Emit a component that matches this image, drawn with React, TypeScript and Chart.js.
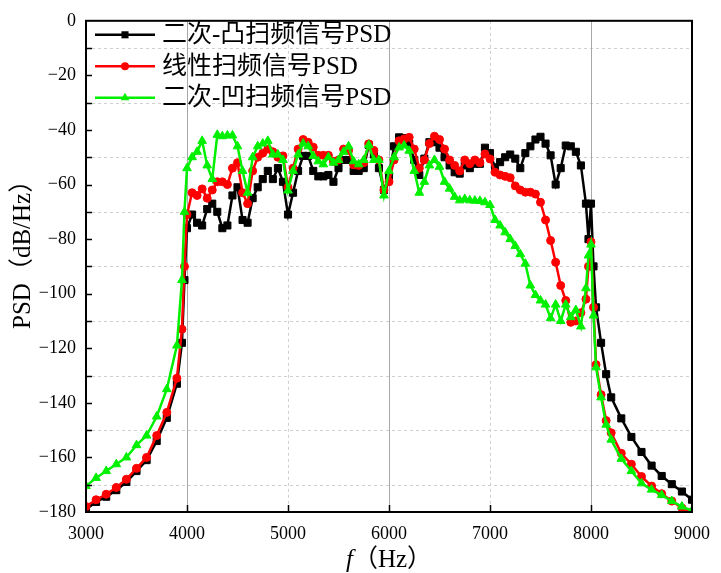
import React, { useEffect, useRef } from "react";
import { Chart, registerables } from "chart.js";

Chart.register(...registerables);

// ---------- data ----------
const freqHz = [
  3000, 3100, 3200, 3300, 3400, 3500, 3600, 3700, 3800, 3900, 3950, 3975,
  4000, 4050, 4100, 4150, 4200, 4250, 4300, 4350, 4400, 4450, 4500, 4550, 4600, 4650, 4700, 4750, 4800, 4850, 4900, 4950,
  5000, 5050, 5100, 5150, 5200, 5250, 5300, 5350, 5400, 5450, 5500, 5550, 5600, 5650, 5700, 5750, 5800, 5850, 5900, 5950,
  6000, 6050, 6100, 6150, 6200, 6250, 6300, 6350, 6400, 6450, 6500, 6550, 6600, 6650, 6700, 6750, 6800, 6850, 6900, 6950,
  7000, 7050, 7100, 7150, 7200, 7250, 7300, 7350, 7400, 7450, 7500, 7550, 7600, 7650, 7700, 7750, 7800, 7850, 7900, 7950, 7975,
  8000, 8025, 8050, 8100, 8150, 8200, 8300, 8400, 8500, 8600, 8700, 8800, 8900, 9000,
];

const convexPsd = [
  -179, -176.3, -174.4, -172, -169, -165, -161, -154, -145.5, -133, -118, -95,
  -76, -71, -74, -75, -69, -67, -70, -76, -75, -64, -61, -73, -74, -65, -61, -58, -55, -58, -54, -59,
  -71, -63, -55, -49.5, -49.5, -55, -57, -57, -56.5, -59, -54, -51, -51, -55, -55, -54, -45.5, -49, -54, -62,
  -57, -46, -42.7, -43, -45, -51, -56.5, -50.5, -44.5, -44.5, -46.5, -50, -53, -55.5, -56, -53, -54, -52.4, -52.4, -46.5,
  -48.5, -53.7, -51.8, -50, -49, -50.5, -54, -48.5, -46, -43.5, -42.5, -45, -49.3, -60, -54, -45.7, -46, -48, -53, -67, -80,
  -67, -90, -105, -118, -129.5, -138, -145.7, -152.5, -158, -163, -166.8, -169.8, -172.5, -175.5,
];

const linearPsd = [
  -178, -175.5, -173.5, -171, -168, -164, -160, -152, -143.5, -131, -113, -90,
  -71, -63, -64, -61.6, -65, -62, -59, -59, -60, -54, -52, -63, -67, -55, -50, -48.5, -47, -48, -50, -49.5,
  -61, -54, -47, -43.5, -44.5, -46.3, -49.3, -49.3, -49.3, -51.5, -51, -47, -47.5, -52.8, -53, -52, -45.1, -47.5, -51, -62,
  -59, -51, -44, -43.3, -42.7, -47, -54, -51, -45, -42.3, -43.5, -47, -51, -53, -55, -51, -52.4, -51, -52, -48.8,
  -50.6, -55.5, -56.5, -57, -57.5, -60.5, -62, -62.8, -62.8, -63.5, -66.5, -73, -80.5, -88.5, -97, -102.5, -110.5, -110, -107, -102, -90,
  -81, -105, -126, -137, -146.5, -151, -158.5, -162.5, -167, -170.5, -173.3, -176, -178.5, -180,
];

const concavePsd = [
  -170.5, -167.5, -165, -162.5, -160, -155.5, -152, -145, -135, -119, -95, -70,
  -54, -50, -48, -44, -53, -58, -41.8, -42.3, -42, -42, -46, -55, -63, -50, -46, -45, -44, -49, -49, -51,
  -62.2, -55, -49, -45, -46, -49.5, -51.5, -52.6, -50, -52, -51, -48, -46, -51.5, -52.6, -51, -45.5, -51, -51, -64,
  -55, -50, -46.4, -45.7, -47.6, -55, -63, -59, -53, -51, -53.5, -59, -61.5, -64.5, -65.8, -65.3, -65.8, -65.9, -66, -66.5,
  -67.5, -73, -75, -77.5, -80, -82.5, -85.5, -89, -97, -100.5, -102.5, -104, -109, -104, -110, -104, -108.6, -106, -112, -98, -86,
  -82, -108, -127, -138, -148, -153.5, -160.5, -165, -169.5, -171.8, -173.8, -176, -178, -179.5,
];

const seriesNames = ["二次-凸扫频信号PSD", "线性扫频信号PSD", "二次-凹扫频信号PSD"];
const seriesColors = ["#000000", "#ff0000", "#00f000"];
const seriesMarkers = ["rect", "circle", "triangle"];
const seriesValues = [convexPsd, linearPsd, concavePsd];

const xRange = [3000, 9000];
const xStep = 1000;
const yRange = [-180, 0];
const yStep = 20;
const yMinorStep = 10;
const solidGridHz = [4000, 6000, 8000];
const dottedGridHz = [5000, 7000];
const dottedGridPsd = [-10, -30, -50, -70, -90, -110, -130, -150, -170];

const xTitleItalic = "f";
const xTitleRest = "（Hz）";
const yTitle = "PSD（dB/Hz）";

const SERIF = '"Liberation Serif", "Noto Sans CJK SC", serif';

function drawMarker(ctx: CanvasRenderingContext2D, style: string, cx: number, cy: number, r: number) {
  ctx.beginPath();
  if (style === "rect") {
    const s = r * Math.SQRT1_2;
    ctx.rect(cx - s, cy - s, 2 * s, 2 * s);
  } else if (style === "circle") {
    ctx.arc(cx, cy, r, 0, Math.PI * 2);
  } else {
    const h = r * 1.5;
    ctx.moveTo(cx, cy - r);
    ctx.lineTo(cx + r * 0.866, cy + r * 0.5);
    ctx.lineTo(cx - r * 0.866, cy + r * 0.5);
    ctx.closePath();
    void h;
  }
  ctx.fill();
}

const decorPlugin = {
  id: "decor",
  beforeDatasetsDraw(chart: any) {
    const { ctx, chartArea: a, scales } = chart;
    const x = scales.x;
    const y = scales.y;
    ctx.save();
    ctx.lineWidth = 1;
    ctx.strokeStyle = "#cfcfcf";
    ctx.setLineDash([3, 3]);
    for (const v of dottedGridPsd) {
      const py = Math.round(y.getPixelForValue(v)) + 0.5;
      ctx.beginPath();
      ctx.moveTo(a.left, py);
      ctx.lineTo(a.right, py);
      ctx.stroke();
    }
    for (const v of dottedGridHz) {
      const px = Math.round(x.getPixelForValue(v)) + 0.5;
      ctx.beginPath();
      ctx.moveTo(px, a.top);
      ctx.lineTo(px, a.bottom);
      ctx.stroke();
    }
    ctx.setLineDash([]);
    ctx.strokeStyle = "#a8a8a8";
    for (const v of solidGridHz) {
      const px = Math.round(x.getPixelForValue(v)) + 0.5;
      ctx.beginPath();
      ctx.moveTo(px, a.top);
      ctx.lineTo(px, a.bottom);
      ctx.stroke();
    }
    ctx.restore();
  },
  afterDraw(chart: any) {
    const { ctx, chartArea: a, scales } = chart;
    const x = scales.x;
    const y = scales.y;
    ctx.save();
    // frame
    ctx.strokeStyle = "#000";
    ctx.lineWidth = 2;
    ctx.strokeRect(a.left, a.top, a.right - a.left, a.bottom - a.top);
    // inward ticks
    ctx.lineWidth = 1.5;
    for (let v = yRange[0] + yMinorStep; v < yRange[1]; v += yMinorStep) {
      const py = Math.round(y.getPixelForValue(v)) + 0.5;
      ctx.beginPath();
      ctx.moveTo(a.left, py);
      ctx.lineTo(a.left + 6, py);
      ctx.stroke();
    }
    for (let v = xRange[0] + xStep; v < xRange[1]; v += xStep) {
      const px = Math.round(x.getPixelForValue(v)) + 0.5;
      ctx.beginPath();
      ctx.moveTo(px, a.bottom);
      ctx.lineTo(px, a.bottom - 7);
      ctx.stroke();
    }
    // legend
    chart.data.datasets.forEach((ds: any, i: number) => {
      const cy = a.top + 14 + i * 31.5;
      const x0 = a.left + 9;
      const x1 = a.left + 69;
      ctx.strokeStyle = ds.borderColor;
      ctx.lineWidth = 2.5;
      ctx.beginPath();
      ctx.moveTo(x0, cy);
      ctx.lineTo(x1, cy);
      ctx.stroke();
      ctx.fillStyle = ds.borderColor;
      drawMarker(ctx, ds.pointStyle, (x0 + x1) / 2, cy, ds.pointRadius);
      ctx.fillStyle = "#000";
      ctx.font = `25px ${SERIF}`;
      ctx.textAlign = "left";
      ctx.textBaseline = "middle";
      ctx.fillText(ds.label, a.left + 76, cy + 1);
    });
    // axis titles
    ctx.fillStyle = "#000";
    ctx.textBaseline = "middle";
    ctx.save();
    ctx.translate(23, (a.top + a.bottom) / 2 - 18);
    ctx.rotate(-Math.PI / 2);
    ctx.textAlign = "center";
    ctx.font = `25px ${SERIF}`;
    ctx.fillText(yTitle, 0, 0);
    ctx.restore();
    const cx = (a.left + a.right) / 2;
    ctx.font = `italic 25px ${SERIF}`;
    const w1 = ctx.measureText(xTitleItalic).width;
    ctx.font = `25px ${SERIF}`;
    const w2 = ctx.measureText(xTitleRest).width;
    const sx = cx - (w1 + w2) / 2;
    ctx.textAlign = "left";
    ctx.font = `italic 25px ${SERIF}`;
    ctx.fillText(xTitleItalic, sx, 560);
    ctx.font = `25px ${SERIF}`;
    ctx.fillText(xTitleRest, sx + w1, 560);
    ctx.restore();
  },
};

export default function App() {
  const canvasRef = useRef<HTMLCanvasElement | null>(null);

  useEffect(() => {
    const canvas = canvasRef.current;
    if (!canvas) return;
    const radii = [5, 4, 5];
    const order = [3, 2, 1];
    const datasets = seriesValues.map((vals, i) => ({
      label: seriesNames[i],
      data: freqHz.map((f, k) => ({ x: f, y: vals[k] })),
      borderColor: seriesColors[i],
      backgroundColor: seriesColors[i],
      pointBackgroundColor: seriesColors[i],
      pointBorderColor: seriesColors[i],
      pointStyle: seriesMarkers[i],
      pointRadius: radii[i],
      pointBorderWidth: 1,
      borderWidth: 2.5,
      tension: 0,
      order: order[i],
    }));
    const tickFont = { family: SERIF, size: 18 };
    const chart = new Chart(canvas, {
      type: "line",
      data: { datasets },
      options: {
        animation: false,
        responsive: false,
        devicePixelRatio: 1,
        layout: { padding: { left: 0, right: 21, top: 20, bottom: 0 } },
        plugins: { legend: { display: false }, tooltip: { enabled: false } },
        scales: {
          x: {
            type: "linear",
            min: xRange[0],
            max: xRange[1],
            ticks: {
              stepSize: xStep,
              font: tickFont,
              color: "#000",
              padding: 11,
              maxRotation: 0,
              callback: (v: any) => String(v),
            },
            grid: { display: false, drawTicks: false },
            border: { display: false },
            afterFit: (s: any) => {
              s.height = 61;
            },
          },
          y: {
            type: "linear",
            min: yRange[0],
            max: yRange[1],
            ticks: {
              stepSize: yStep,
              font: tickFont,
              color: "#000",
              padding: 10,
              callback: (v: any) => (Number(v) < 0 ? "\u2212" + Math.abs(Number(v)) : String(v)),
            },
            grid: { display: false, drawTicks: false },
            border: { display: false },
            afterFit: (s: any) => {
              s.width = 86;
            },
          },
        },
      },
      plugins: [decorPlugin],
    } as any);
    return () => chart.destroy();
  }, []);

  return (
    <div style={{ position: "fixed", left: 0, top: 0, width: 721, height: 573, background: "#fff" }}>
      <canvas ref={canvasRef} width={721} height={573} style={{ display: "block" }} />
    </div>
  );
}
